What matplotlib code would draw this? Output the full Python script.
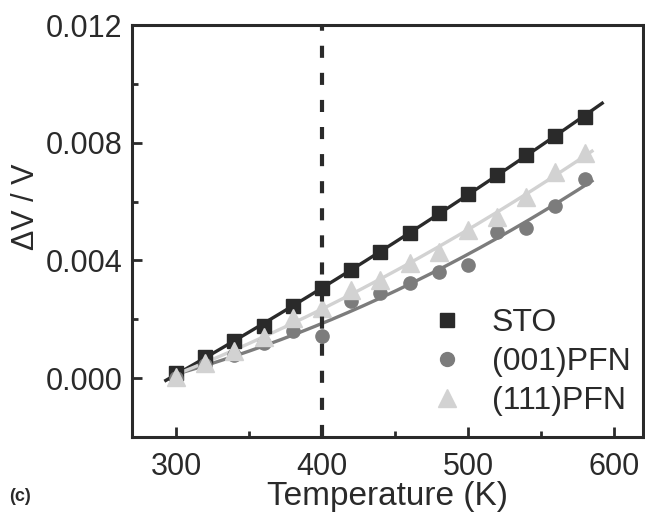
import numpy as np
import matplotlib
matplotlib.use('Agg')
import matplotlib.pyplot as plt
from matplotlib.lines import Line2D

plt.rcParams['font.family'] = ['Liberation Sans', 'DejaVu Sans']

# temperature (K) and relative volume change for each sample
temp = [300, 320, 340, 360, 380, 400, 420, 440, 460, 480, 500, 520, 540, 560, 580]
sto = [0.00017, 0.00070, 0.00126, 0.00177, 0.00245, 0.00306, 0.00368, 0.00429,
       0.00494, 0.00562, 0.00626, 0.00691, 0.00759, 0.00824, 0.00888]
pfn001 = [0.00000, 0.00045, 0.00080, 0.00118, 0.00160, 0.00143, 0.00262, 0.00289,
          0.00323, 0.00361, 0.00385, 0.00497, 0.00510, 0.00586, 0.00677]
pfn111 = [0.00005, 0.00050, 0.00092, 0.00140, 0.00206, 0.00240, 0.00300, 0.00334,
          0.00390, 0.00429, 0.00505, 0.00548, 0.00616, 0.00701, 0.00766]

labels = ['STO', '(001)PFN', '(111)PFN']
colors = ['#2a2a2a', '#7c7c7c', '#d2d2d2']
markers = ['s', 'o', '^']
sizes = [10, 9.5, 13]
fit_range = [(293, 592), (305, 585), (298, 585)]

fig = plt.figure(figsize=(6.45, 5.14), dpi=100)
ax = fig.add_axes([0.205, 0.150, 0.792, 0.801])

T = np.array(temp)
for y, c, m, ms, (t0, t1) in zip([sto, pfn001, pfn111], colors, markers, sizes, fit_range):
    y = np.array(y)
    coef = np.polyfit(T, y, 2)
    tt = np.linspace(t0, t1, 200)
    ax.plot(tt, np.polyval(coef, tt), color=c, lw=2.4, zorder=2)
    ax.plot(T, y, ls='none', marker=m, ms=ms, color=c, mec=c, zorder=3)

# dashed marker at 400 K
ax.axvline(400, color='#2a2a2a', lw=3, ls=(0, (2.9, 3.6)), zorder=4)

ax.set_xlim(270, 620)
ax.set_ylim(-0.002, 0.012)
ax.set_xticks([300, 400, 500, 600])
ax.set_xticks([350, 450, 550], minor=True)
ax.set_yticks([0.000, 0.004, 0.008, 0.012])
ax.set_yticks([-0.002, 0.002, 0.006, 0.010], minor=True)
ax.set_yticklabels(['0.000', '0.004', '0.008', '0.012'])

for s in ax.spines.values():
    s.set_linewidth(2.2)
    s.set_color('#2a2a2a')
ax.tick_params(which='both', direction='in', top=False, right=False,
               width=2, color='#2a2a2a', labelsize=22, labelcolor='#2a2a2a')
ax.tick_params(which='major', length=7)
ax.tick_params(which='minor', length=4)
ax.tick_params(axis='x', pad=11)
ax.tick_params(axis='y', pad=7)

ax.set_xlabel('Temperature (K)', fontsize=24, color='#2a2a2a', labelpad=-1)
ax.set_ylabel('ΔV / V', fontsize=22, color='#2a2a2a')
ax.yaxis.set_label_coords(-0.178, 0.56)

handles = [Line2D([], [], ls='none', marker=m, ms=ms, color=c)
           for m, ms, c in zip(markers, [10, 10, 13], colors)]
ax.legend(handles, labels, frameon=False, loc='lower left',
          bbox_to_anchor=(0.585, 0.05), fontsize=23, handletextpad=0.9,
          labelspacing=0.29, borderpad=0, handlelength=1.0, borderaxespad=0,
          labelcolor='#2a2a2a')

fig.text(0.014, 0.025, '(c)', fontsize=13, fontweight='bold', color='#2a2a2a')

fig.savefig('out.png', dpi=100)
